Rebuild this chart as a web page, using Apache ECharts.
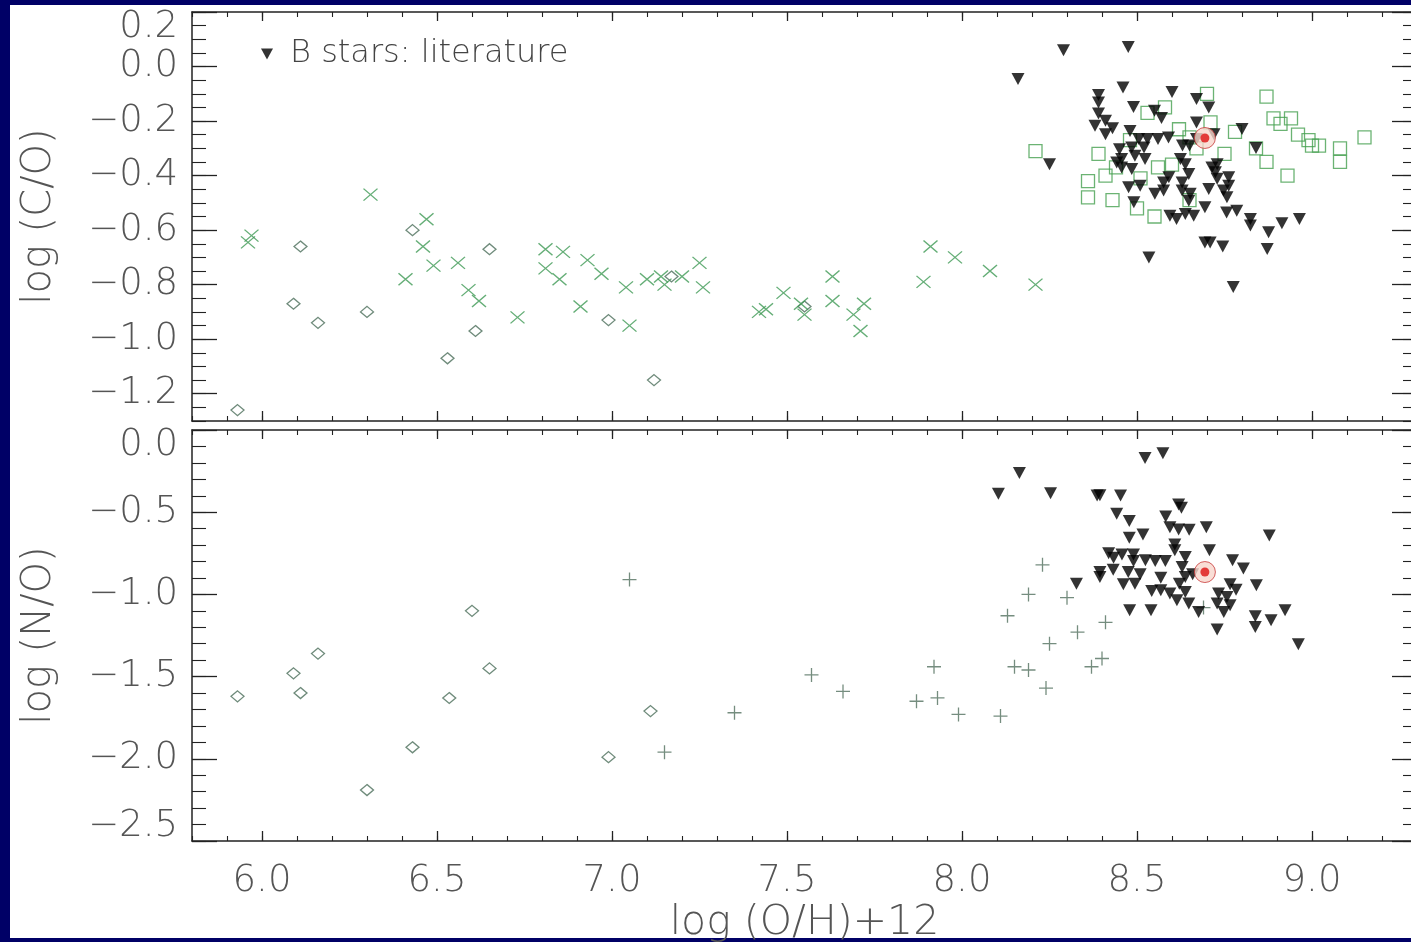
<!DOCTYPE html>
<html>
<head>
<meta charset="utf-8">
<title>log (C/O) and log (N/O) against log (O/H)+12</title>
<script src="https://cdn.jsdelivr.net/npm/echarts@6/dist/echarts.min.js"></script>
<style>
  html, body { margin: 0; padding: 0; background: #000066; }
  #paper { position: absolute; left: 10px; top: 5px; width: 1401px; height: 933px; background: #ffffff; }
  #main { position: absolute; left: 0; top: 0; width: 1411px; height: 942px; }
</style>
</head>
<body>
<div id="paper"></div>
<div id="main"></div>
<script>
// tick values
var xMajorTicks = [6.0, 6.5, 7.0, 7.5, 8.0, 8.5, 9.0];
var xMinorTicks = [5.8, 5.9, 6.0, 6.1, 6.2, 6.3, 6.4, 6.5, 6.6, 6.7, 6.8, 6.9, 7.0, 7.1, 7.2, 7.3, 7.4, 7.5,
  7.6, 7.7, 7.8, 7.9, 8.0, 8.1, 8.2, 8.3, 8.4, 8.5, 8.6, 8.7, 8.8, 8.9, 9.0, 9.1, 9.2, 9.3];
var coMajorTicks = [-1.2, -1.0, -0.8, -0.6, -0.4, -0.2, 0.0, 0.2];
var coMinorTicks = [-1.3, -1.25, -1.2, -1.15, -1.1, -1.05, -1.0, -0.95, -0.9, -0.85, -0.8, -0.75, -0.7, -0.65,
  -0.6, -0.55, -0.5, -0.45, -0.4, -0.35, -0.3, -0.25, -0.2, -0.15, -0.1, -0.05, 0.0, 0.05, 0.1, 0.15, 0.2];
var noMajorTicks = [-2.5, -2.0, -1.5, -1.0, -0.5, 0.0];
var noMinorTicks = [-2.5, -2.4, -2.3, -2.2, -2.1, -2.0, -1.9, -1.8, -1.7, -1.6, -1.5, -1.4, -1.3, -1.2, -1.1,
  -1.0, -0.9, -0.8, -0.7, -0.6, -0.5, -0.4, -0.3, -0.2, -0.1, 0.0];

// log (C/O) panel: [log(O/H)+12, log(C/O)]
var coDiamonds = [[5.93, -1.26], [6.11, -0.66], [6.09, -0.87], [6.16, -0.94], [6.30, -0.90], [6.43, -0.60],
  [6.65, -0.67], [6.61, -0.97], [6.53, -1.07], [6.99, -0.93], [7.12, -1.15], [7.17, -0.77], [7.55, -0.88]];
var coCrosses = [[5.96, -0.645], [5.97, -0.62], [6.31, -0.47], [6.41, -0.78], [6.47, -0.56], [6.46, -0.66],
  [6.49, -0.73], [6.56, -0.72], [6.59, -0.82], [6.62, -0.86], [6.73, -0.92], [6.81, -0.67], [6.81, -0.74],
  [6.86, -0.68], [6.85, -0.78], [6.91, -0.88], [6.93, -0.71], [6.97, -0.76], [7.04, -0.81], [7.05, -0.95],
  [7.10, -0.78], [7.14, -0.77], [7.15, -0.80], [7.20, -0.77], [7.25, -0.72], [7.26, -0.81], [7.42, -0.90],
  [7.44, -0.89], [7.49, -0.83], [7.54, -0.87], [7.55, -0.91], [7.63, -0.77], [7.63, -0.86], [7.69, -0.91],
  [7.72, -0.87], [7.71, -0.97], [7.89, -0.79], [7.91, -0.66], [7.98, -0.70], [8.08, -0.75], [8.21, -0.80]];
var coSquares = [[8.21, -0.31], [8.36, -0.42], [8.36, -0.48], [8.41, -0.40], [8.39, -0.32], [8.43, -0.49],
  [8.50, -0.52], [8.55, -0.55], [8.51, -0.41], [8.53, -0.17], [8.58, -0.15], [8.48, -0.27], [8.56, -0.37],
  [8.62, -0.23], [8.67, -0.30], [8.70, -0.10], [8.71, -0.205], [8.75, -0.32], [8.65, -0.26], [8.78, -0.24],
  [8.65, -0.49], [8.84, -0.30], [8.87, -0.11], [8.87, -0.35], [8.93, -0.40], [8.89, -0.19], [8.91, -0.21],
  [8.94, -0.19], [8.96, -0.25], [8.99, -0.27], [9.00, -0.29], [9.02, -0.29], [9.08, -0.30], [9.08, -0.35],
  [9.15, -0.26], [8.44, -0.37], [8.60, -0.36]];
var coBStars = [[8.29, 0.06], [8.475, 0.072], [8.16, -0.046], [8.25, -0.358], [8.46, -0.077], [8.39, -0.104],
  [8.39, -0.132], [8.39, -0.172], [8.38, -0.217], [8.41, -0.199], [8.41, -0.248], [8.43, -0.226], [8.49, -0.148],
  [8.55, -0.162], [8.57, -0.189], [8.60, -0.093], [8.67, -0.119], [8.705, -0.150], [8.67, -0.205], [8.72, -0.248],
  [8.80, -0.229], [8.84, -0.299], [8.48, -0.236], [8.505, -0.266], [8.53, -0.266], [8.56, -0.266], [8.59, -0.26],
  [8.63, -0.29], [8.65, -0.29], [8.67, -0.266], [8.45, -0.303], [8.485, -0.297], [8.52, -0.297], [8.456, -0.339],
  [8.494, -0.327], [8.523, -0.339], [8.442, -0.352], [8.456, -0.37], [8.485, -0.376], [8.624, -0.339],
  [8.638, -0.358], [8.714, -0.37], [8.729, -0.358], [8.724, -0.388], [8.648, -0.394], [8.591, -0.406],
  [8.576, -0.425], [8.629, -0.425], [8.476, -0.443], [8.509, -0.437], [8.551, -0.467], [8.576, -0.455],
  [8.629, -0.455], [8.652, -0.467], [8.648, -0.492], [8.705, -0.449], [8.729, -0.412], [8.762, -0.406],
  [8.762, -0.437], [8.747, -0.455], [8.757, -0.479], [8.756, -0.535], [8.785, -0.529], [8.694, -0.516],
  [8.491, -0.498], [8.594, -0.547], [8.613, -0.559], [8.638, -0.541], [8.662, -0.547], [8.824, -0.559],
  [8.824, -0.583], [8.876, -0.608], [8.914, -0.575], [8.964, -0.559], [8.694, -0.645], [8.709, -0.645],
  [8.745, -0.66], [8.872, -0.669], [8.534, -0.70], [8.775, -0.809]];
var coSun = [[8.694, -0.262]];

// log (N/O) panel: [log(O/H)+12, log(N/O)]
var noDiamonds = [[5.93, -1.62], [6.09, -1.48], [6.11, -1.60], [6.16, -1.36], [6.30, -2.19], [6.43, -1.93],
  [6.535, -1.63], [6.60, -1.10], [6.65, -1.45], [6.99, -1.99], [7.11, -1.71]];
var noPluses = [[7.05, -0.91], [7.15, -1.96], [7.35, -1.72], [7.57, -1.49], [7.66, -1.59], [7.87, -1.65],
  [7.93, -1.63], [7.92, -1.44], [7.99, -1.73], [8.11, -1.74], [8.15, -1.44], [8.19, -1.46], [8.24, -1.57],
  [8.13, -1.13], [8.19, -1.00], [8.23, -0.82], [8.30, -1.02], [8.25, -1.30], [8.33, -1.23], [8.37, -1.44],
  [8.41, -1.17], [8.40, -1.39], [8.69, -1.08]];
var noBStars = [[8.523, -0.170], [8.574, -0.142], [8.164, -0.261], [8.104, -0.388], [8.253, -0.385],
  [8.386, -0.399], [8.394, -0.397], [8.453, -0.399], [8.619, -0.453], [8.627, -0.473], [8.442, -0.510],
  [8.478, -0.554], [8.582, -0.526], [8.594, -0.591], [8.619, -0.605], [8.649, -0.607], [8.698, -0.591],
  [8.878, -0.641], [8.478, -0.655], [8.517, -0.635], [8.608, -0.696], [8.608, -0.732], [8.707, -0.732],
  [8.419, -0.749], [8.457, -0.757], [8.490, -0.757], [8.433, -0.777], [8.490, -0.797], [8.524, -0.793],
  [8.552, -0.797], [8.581, -0.797], [8.638, -0.773], [8.773, -0.793], [8.804, -0.843], [8.394, -0.864],
  [8.432, -0.850], [8.475, -0.864], [8.509, -0.878], [8.568, -0.898], [8.629, -0.834], [8.638, -0.894],
  [8.659, -0.878], [8.394, -0.894], [8.461, -0.939], [8.494, -0.935], [8.542, -0.979], [8.568, -0.975],
  [8.594, -0.995], [8.621, -0.935], [8.638, -0.985], [8.614, -1.036], [8.648, -1.056], [8.676, -1.107],
  [8.733, -0.995], [8.757, -1.016], [8.766, -0.939], [8.783, -0.971], [8.841, -0.945], [8.729, -1.056],
  [8.748, -1.107], [8.766, -1.066], [8.479, -1.097], [8.540, -1.097], [8.729, -1.214], [8.838, -1.133],
  [8.838, -1.198], [8.883, -1.157], [8.923, -1.097], [8.961, -1.303], [8.327, -0.935]];
var noSun = [[8.694, -0.864]];

var axisColor = '#222';
var labelFont = 'DejaVu Sans';
var textColor = '#555';

function fmt(v) {
  return (v < -1e-9 ? '\u2212' : '') + Math.abs(v).toFixed(1);
}

function xAxes(grid, withLabels) {
  var base = { gridIndex: grid, type: 'value', min: 5.8, max: 9.3, splitLine: { show: false } };
  return [
    Object.assign({}, base, {
      position: 'bottom',
      axisLine: { show: true, onZero: false, lineStyle: { color: axisColor, width: 1.5 } },
      axisTick: { inside: true, length: 10, customValues: xMajorTicks, lineStyle: { color: axisColor, width: 1.3 } },
      axisLabel: { show: withLabels, customValues: xMajorTicks, formatter: fmt, margin: 22,
        fontSize: 37, fontFamily: labelFont, fontWeight: 200, color: textColor },
      name: withLabels ? 'log (O/H)+12' : '', nameLocation: 'middle', nameGap: 62,
      nameTextStyle: { fontSize: 41, fontFamily: labelFont, fontWeight: 200, color: textColor }
    }),
    Object.assign({}, base, {
      position: 'bottom',
      axisLine: { show: false, onZero: false },
      axisTick: { inside: true, length: 5, customValues: xMinorTicks, lineStyle: { color: axisColor, width: 1.1 } },
      axisLabel: { show: false }
    }),
    Object.assign({}, base, {
      position: 'top',
      axisLine: { show: true, onZero: false, lineStyle: { color: axisColor, width: 1.5 } },
      axisTick: { inside: true, length: 9, customValues: xMajorTicks, lineStyle: { color: axisColor, width: 1.3 } },
      axisLabel: { show: false }
    }),
    Object.assign({}, base, {
      position: 'top',
      axisLine: { show: false, onZero: false },
      axisTick: { inside: true, length: 5, customValues: xMinorTicks, lineStyle: { color: axisColor, width: 1.1 } },
      axisLabel: { show: false }
    })
  ];
}

function yAxes(grid, min, max, major, minor, title) {
  var base = { gridIndex: grid, type: 'value', min: min, max: max, splitLine: { show: false } };
  return [
    Object.assign({}, base, {
      position: 'left',
      axisLine: { show: true, onZero: false, lineStyle: { color: axisColor, width: 1.5 } },
      axisTick: { inside: true, length: 25, customValues: major, lineStyle: { color: axisColor, width: 1.3 } },
      axisLabel: { customValues: major, formatter: fmt, margin: 14, fontSize: 37, lineHeight: 30,
        fontFamily: labelFont, fontWeight: 200, color: textColor,
        showMinLabel: true, showMaxLabel: true, hideOverlap: false,
        verticalAlignMaxLabel: 'top',
        verticalAlignMinLabel: grid === 1 ? 'bottom' : 'middle' },
      name: title, nameLocation: 'middle', nameGap: 132,
      nameTextStyle: { fontSize: 40, fontFamily: labelFont, fontWeight: 200, color: textColor }
    }),
    Object.assign({}, base, {
      position: 'left',
      axisLine: { show: false, onZero: false },
      axisTick: { inside: true, length: 14, customValues: minor, lineStyle: { color: axisColor, width: 1.1 } },
      axisLabel: { show: false }
    }),
    Object.assign({}, base, {
      position: 'right',
      axisLine: { show: true, onZero: false, lineStyle: { color: axisColor, width: 1.5 } },
      axisTick: { inside: true, length: 25, customValues: major, lineStyle: { color: axisColor, width: 1.3 } },
      axisLabel: { show: false }
    }),
    Object.assign({}, base, {
      position: 'right',
      axisLine: { show: false, onZero: false },
      axisTick: { inside: true, length: 14, customValues: minor, lineStyle: { color: axisColor, width: 1.1 } },
      axisLabel: { show: false }
    })
  ];
}

var crossPath = 'path://M0,0L10,10M10,0L0,10';
var plusPath = 'path://M5,0L5,10M0,5L10,5';
var downTriangle = 'path://M0,0L10,0L5,9Z';

function openSeries(name, data, panel, symbol, size, color) {
  return {
    name: name, type: 'scatter', data: data,
    xAxisIndex: panel * 4, yAxisIndex: panel * 4,
    symbol: symbol, symbolSize: size, z: 3,
    itemStyle: { color: 'rgba(0,0,0,0)', borderColor: color, borderWidth: 1.3 }
  };
}

function starSeries(data, panel) {
  return {
    name: 'B stars: literature', type: 'scatter', data: data,
    xAxisIndex: panel * 4, yAxisIndex: panel * 4,
    symbol: downTriangle, symbolSize: [13, 12], z: 4,
    itemStyle: { color: '#000' }
  };
}

function sunSeries(data, panel) {
  return [
    { name: 'Sun', type: 'scatter', data: data, xAxisIndex: panel * 4, yAxisIndex: panel * 4,
      symbol: 'circle', symbolSize: 21, z: 5,
      itemStyle: { color: '#f7d6cc', borderColor: '#c83a3a', borderWidth: 1 } },
    { name: 'Sun dot', type: 'scatter', data: data, xAxisIndex: panel * 4, yAxisIndex: panel * 4,
      symbol: 'circle', symbolSize: 9, z: 6,
      itemStyle: { color: '#dd1111' } }
  ];
}

var chart = echarts.init(document.getElementById('main'));

var option = {
  animation: false,
  backgroundColor: 'transparent',
  legend: {
    data: ['B stars: literature'],
    left: 256, top: 33,
    icon: downTriangle, itemWidth: 12, itemHeight: 11,
    selectedMode: false,
    textStyle: { fontSize: 32, fontFamily: labelFont, fontWeight: 200, color: '#444', padding: [0, 0, 0, 12] }
  },
  grid: [
    { left: 192, top: 12, width: 1225, height: 409, outerBoundsMode: 'none' },
    { left: 192, top: 430, width: 1225, height: 411, outerBoundsMode: 'none' }
  ],
  xAxis: xAxes(0, false).concat(xAxes(1, true)),
  yAxis: yAxes(0, -1.3, 0.2, coMajorTicks, coMinorTicks, 'log (C/O)')
    .concat(yAxes(1, -2.5, 0.0, noMajorTicks, noMinorTicks, 'log (N/O)')),
  series: [
    openSeries('diamonds', coDiamonds, 0, 'diamond', [13, 11], '#4b6e5a'),
    openSeries('crosses', coCrosses, 0, crossPath, [14, 12], '#3f9a55'),
    openSeries('squares', coSquares, 0, 'rect', [13, 13], '#46a050'),
    starSeries(coBStars, 0),
    openSeries('diamonds', noDiamonds, 1, 'diamond', [13, 11], '#4b6e5a'),
    openSeries('pluses', noPluses, 1, plusPath, [14, 14], '#52705f'),
    starSeries(noBStars, 1)
  ].concat(sunSeries(coSun, 0), sunSeries(noSun, 1))
};

chart.setOption(option);
</script>
</body>
</html>
